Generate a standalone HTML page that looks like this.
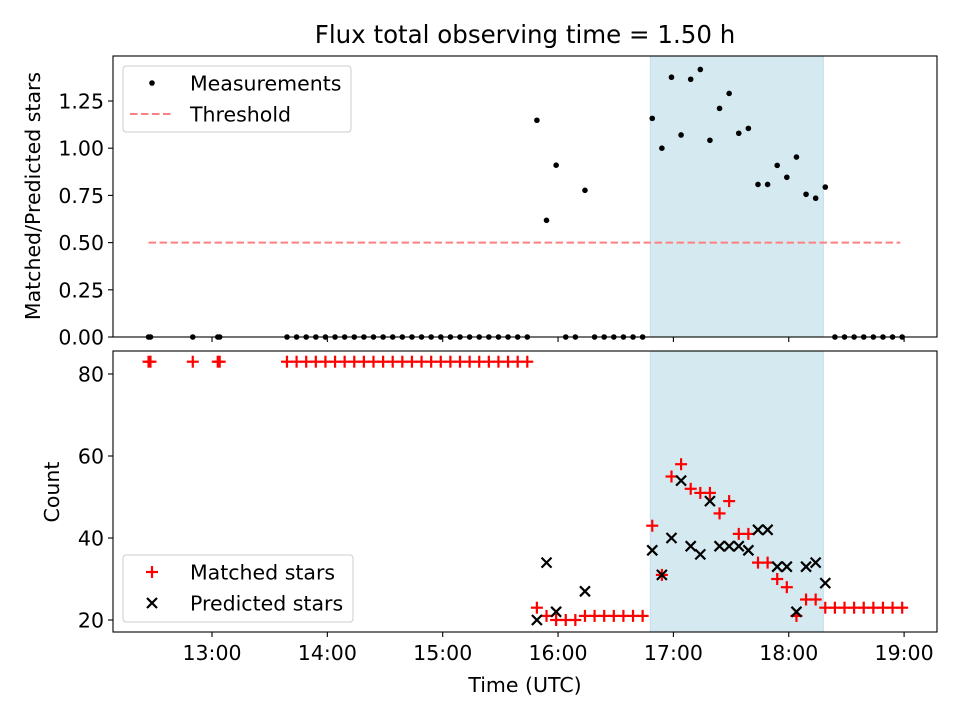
<!DOCTYPE html>
<html><head><meta charset="utf-8"><style>
body{margin:0;background:#fff}
svg{display:block;font-family:"DejaVu Sans","Liberation Sans",sans-serif}
</style></head><body>
<svg id="chart" width="960" height="720" viewBox="0 0 960 720"></svg>
<script>
// data: time in minutes after 12:00
const earlyTimes=[27,28,50,63,64];
const gridStart=99, gridStep=5, gridCount=65;
const ratioVals=[0,0,0,0,0,0,0,0,0,0,0,0,0,0,0,0,0,0,0,0,0,0,0,0,0,0,
1.148,0.618,0.91,0,0,0.777,0,0,0,0,0,0,
1.158,1.0,1.376,1.07,1.365,1.417,1.042,1.211,1.29,1.079,1.105,0.808,0.808,0.909,0.846,0.953,0.756,0.735,0.794,
0,0,0,0,0,0,0,0];
const matchedVals=[83,83,83,83,83,83,83,83,83,83,83,83,83,83,83,83,83,83,83,83,83,83,83,83,83,83,
23,21,20,20,20,21,21,21,21,21,21,21,
43,31,55,58,52,51,51,46,49,41,41,34,34,30,28,21,25,25,23,
23,23,23,23,23,23,23,23];
const predictedVals=[null,null,null,null,null,null,null,null,null,null,null,null,null,null,null,null,null,null,null,null,null,null,null,null,null,null,
20,34,22,null,null,27,null,null,null,null,null,null,
37,31,40,54,38,36,49,38,38,38,37,42,42,33,33,22,33,34,29,
null,null,null,null,null,null,null,null];
const earlyMatched=[83,83,83,83,83];
const spanStart=288, spanEnd=378;
const threshold=0.5, thrStart=27, thrEnd=418;
const xTickLabels=["13:00","14:00","15:00","16:00","17:00","18:00","19:00"];
const xTickVals=[60,120,180,240,300,360,420];
const topTicks=[0,0.25,0.5,0.75,1.0,1.25];
const botTicks=[20,40,60,80];

const NS="http://www.w3.org/2000/svg";
const svg=document.getElementById('chart');
function el(t,a,p){const e=document.createElementNS(NS,t);for(const k in a)e.setAttribute(k,a[k]);(p||svg).appendChild(e);return e;}
const L=113,R=937,FS=20.5;
const x=t=>212+(t-60)*1.9225;
const T={top:56,bot:337}, B={top:351,bot:632};
const yT=v=>337-v*188.8;
const yB=v=>620-(v-20)*4.1;

let e=el('text',{x:525,y:43,'text-anchor':'middle','font-size':24.5});e.textContent='Flux total observing time = 1.50 h';


function panel(P,name){
  const g=el('g',{});
  const s=el('rect',{x:x(spanStart),y:P.top,width:x(spanEnd)-x(spanStart),height:P.bot-P.top,fill:'#d5eaf0',stroke:'#bfe0ea','stroke-width':1},g);
  
  return g;
}
const gt=panel(T,'top-panel'), gb=panel(B,'bottom-panel');

e=el('line',{x1:x(thrStart),x2:x(thrEnd),y1:yT(threshold),y2:yT(threshold),stroke:'#ff8080','stroke-width':2,'stroke-dasharray':'7.5,3.5'},gt);


function dot(t,v){const c=el('circle',{cx:x(t),cy:yT(v),r:2.8,fill:'#000'},gt);
}
earlyTimes.forEach(t=>dot(t,0));
ratioVals.forEach((v,i)=>dot(gridStart+i*gridStep,v));

function plus(t,v){const g=el('g',{stroke:'#f00','stroke-width':2.2},gb);

const cx=x(t),cy=yB(v);el('line',{x1:cx-6,x2:cx+6,y1:cy,y2:cy},g);el('line',{x1:cx,x2:cx,y1:cy-6,y2:cy+6},g);}
function cross(t,v){const g=el('g',{stroke:'#000','stroke-width':2.2},gb);

const cx=x(t),cy=yB(v),d=5;el('line',{x1:cx-d,x2:cx+d,y1:cy-d,y2:cy+d},g);el('line',{x1:cx-d,x2:cx+d,y1:cy+d,y2:cy-d},g);}
earlyTimes.forEach((t,i)=>plus(t,earlyMatched[i]));
matchedVals.forEach((v,i)=>plus(gridStart+i*gridStep,v));
predictedVals.forEach((v,i)=>{if(v!==null)cross(gridStart+i*gridStep,v);});

[T,B].forEach((P,pi)=>{
  const f=el('rect',{x:L,y:P.top,width:R-L,height:P.bot-P.top,fill:'none',stroke:'#000','stroke-width':1.1});
  
  xTickVals.forEach((tv,i)=>{el('line',{x1:x(tv),x2:x(tv),y1:P.bot,y2:P.bot+5,stroke:'#000','stroke-width':1.1});
    if(pi){const tx=el('text',{x:x(tv),y:P.bot+28,'text-anchor':'middle','font-size':FS});tx.textContent=xTickLabels[i];
    }});
});
topTicks.forEach(v=>{el('line',{x1:L-5,x2:L,y1:yT(v),y2:yT(v),stroke:'#000','stroke-width':1.1});
  const tx=el('text',{x:L-9,y:yT(v)+7.5,'text-anchor':'end','font-size':FS});tx.textContent=v.toFixed(2);
  });
botTicks.forEach(v=>{el('line',{x1:L-5,x2:L,y1:yB(v),y2:yB(v),stroke:'#000','stroke-width':1.1});
  const tx=el('text',{x:L-9,y:yB(v)+7.5,'text-anchor':'end','font-size':FS});tx.textContent=v;
  });

e=el('text',{x:40,y:196,'text-anchor':'middle','font-size':FS,transform:'rotate(-90 40 196)'});e.textContent='Matched/Predicted stars';

e=el('text',{x:59,y:492,'text-anchor':'middle','font-size':FS,transform:'rotate(-90 59 492)'});e.textContent='Count';

e=el('text',{x:525,y:692,'text-anchor':'middle','font-size':FS});e.textContent='Time (UTC)';


function legend(x0,y0,w,h,items,name){
  const g=el('g',{});
  el('rect',{x:x0,y:y0,width:w,height:h,rx:3,fill:'#fff','fill-opacity':0.85,stroke:'#ccc'},g);
  items.forEach((it,i)=>{const cy=y0+17+i*31;
    const ig=el('g',{},g);
    it.draw(ig,x0+29,cy);const t=el('text',{x:x0+67,y:cy+7.5,'font-size':FS},ig);t.textContent=it.label;});
}
legend(123,66,228,66,[
 {label:'Measurements',draw:(g,cx,cy)=>el('circle',{cx:cx,cy:cy,r:2.8,fill:'#000'},g)},
 {label:'Threshold',draw:(g,cx,cy)=>el('line',{x1:cx-22,x2:cx+20,y1:cy,y2:cy,stroke:'#ff8080','stroke-width':2,'stroke-dasharray':'7.5,3.5'},g)}
],'top-legend');
legend(123,555,230,67,[
 {label:'Matched stars',draw:(g,cx,cy)=>{el('line',{x1:cx-6,x2:cx+6,y1:cy,y2:cy,stroke:'#f00','stroke-width':2.2},g);el('line',{x1:cx,x2:cx,y1:cy-6,y2:cy+6,stroke:'#f00','stroke-width':2.2},g);}},
 {label:'Predicted stars',draw:(g,cx,cy)=>{el('line',{x1:cx-5,x2:cx+5,y1:cy-5,y2:cy+5,stroke:'#000','stroke-width':2.2},g);el('line',{x1:cx-5,x2:cx+5,y1:cy+5,y2:cy-5,stroke:'#000','stroke-width':2.2},g);}}
],'bottom-legend');
</script>
</body></html>
